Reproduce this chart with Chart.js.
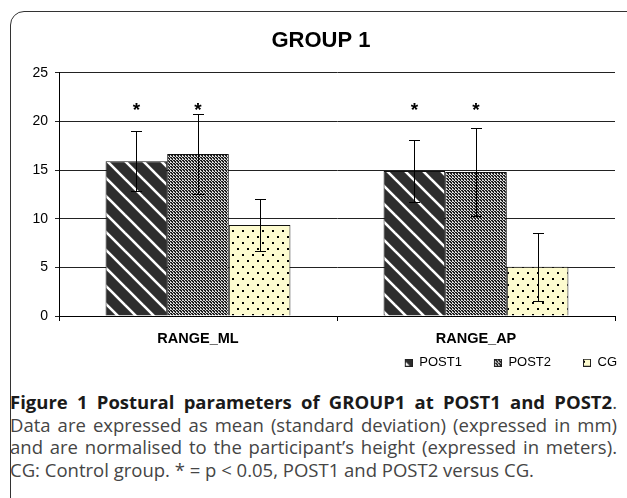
<!DOCTYPE html>
<html><head><meta charset="utf-8">
<script src="https://cdn.jsdelivr.net/npm/chart.js@4.4.0/dist/chart.umd.min.js"></script>
<style>
html,body{margin:0;padding:0;background:#fff;width:627px;height:498px;overflow:hidden;}
#frame{position:absolute;left:10px;top:11px;width:700px;height:600px;border:1.5px solid #333;border-radius:14px;box-sizing:border-box;}
#chartbox{position:absolute;left:0;top:0;width:627px;height:380px;}
#caption{position:absolute;left:10px;top:391px;width:607px;font-family:"Open Sans","Noto Sans",sans-serif;font-size:18.5px;line-height:22.5px;color:#454545;}
.l{text-align:justify;text-align-last:justify;white-space:nowrap;}
.last{text-align:left;white-space:nowrap;}
b{color:#1a1a1a;font-weight:700;}
</style>
</head>
<body>
<div id="frame"></div>
<div id="chartbox"><canvas id="c" width="627" height="380"></canvas></div>
<div id="caption">
<div class="l"><b>Figure 1 Postural parameters of GROUP1 at POST1 and POST2</b>.</div>
<div class="l">Data are expressed as mean (standard deviation) (expressed in mm)</div>
<div class="l">and are normalised to the participant’s height (expressed in meters).</div>
<div class="last">CG: Control group. * = p &lt; 0.05, POST1 and POST2 versus CG.</div>
</div>
<script>
// ---- data ----
const categories = ['RANGE_ML', 'RANGE_AP'];
const seriesNames = ['POST1', 'POST2', 'CG'];
const post1Mean = [15.9, 14.9];
const post1SD = [3.1, 3.15];
const post2Mean = [16.65, 14.8];
const post2SD = [4.1, 4.5];
const cgMean = [9.35, 5.05];
const cgSD = [2.7, 3.5];
const post1Stars = ['*', '*'];
const post2Stars = ['*', '*'];
const cgStars = ['', ''];
const yTicks = [0, 5, 10, 15, 20, 25];
const chartTitle = 'GROUP 1';

// ---- patterns ----
function makeCanvas(w, h, draw) {
  const c = document.createElement('canvas');
  c.width = w; c.height = h;
  draw(c.getContext('2d'), w, h);
  return c;
}
function toPattern(cv) {
  return document.getElementById('c').getContext('2d').createPattern(cv, 'repeat');
}
const stripeTile = makeCanvas(18, 18, (g, w, h) => {
  g.fillStyle = '#2e2e2e'; g.fillRect(0, 0, w, h);
  g.strokeStyle = '#ffffff'; g.lineWidth = 2.6;
  for (let k = -1; k <= 1; k++) {
    g.beginPath(); g.moveTo(-3, -3 + k * h); g.lineTo(w + 3, h + 3 + k * h); g.stroke();
  }
});
const checkTile = makeCanvas(3, 3, (g) => {
  g.fillStyle = '#1c1c1c'; g.fillRect(0, 0, 3, 3);
  g.fillStyle = '#d8d8d8'; g.fillRect(0, 0, 1, 1); g.fillRect(1, 1, 1, 1); g.fillRect(2, 2, 1, 1); g.fillRect(2, 0, 1, 1);
});
const dotTile = makeCanvas(10, 12, (g, w, h) => {
  g.fillStyle = '#fdfbcf'; g.fillRect(0, 0, w, h);
  g.fillStyle = '#000'; g.fillRect(2, 2, 2, 2); g.fillRect(7, 8, 2, 2);
});
const stripePattern = toPattern(stripeTile);
const checkPattern = toPattern(checkTile);
const dotPattern = toPattern(dotTile);

function g2p(tile) {
  const c = document.createElement('canvas').getContext('2d');
  return c.createPattern(tile, 'repeat');
}
// legend icons: small patterned square at the right of a transparent strip
function legendIcon(pattern) {
  return makeCanvas(30, 8, (g) => {
    g.fillStyle = pattern; g.fillRect(22, 0, 8, 8);
    g.strokeStyle = '#222'; g.lineWidth = 1; g.strokeRect(22.5, 0.5, 7, 7);
  });
}
const legendIcons = [
  legendIcon(g2p(stripeTile)), legendIcon(g2p(checkTile)), legendIcon(g2p(dotTile))
];

const errorBars = {
  id: 'errorBars',
  afterDatasetsDraw(chart) {
    const ctx = chart.ctx, ys = chart.scales.y;
    ctx.save();
    chart.data.datasets.forEach((ds, i) => {
      const meta = chart.getDatasetMeta(i);
      meta.data.forEach((bar, j) => {
        const m = ds.data[j], s = ds.sd[j];
        const yt = Math.round(ys.getPixelForValue(m + s)) + 0.5;
        const yb = Math.round(ys.getPixelForValue(m - s)) + 0.5;
        const x = Math.round(bar.x) + 0.5;
        ctx.strokeStyle = '#000'; ctx.lineWidth = 1;
        ctx.beginPath();
        ctx.moveTo(x, yt); ctx.lineTo(x, yb);
        ctx.moveTo(x - 5.5, yt); ctx.lineTo(x + 5.5, yt);
        ctx.moveTo(x - 5.5, yb); ctx.lineTo(x + 5.5, yb);
        ctx.stroke();
        const star = ds.stars[j];
        if (star) {
          ctx.fillStyle = '#000';
          ctx.font = 'bold 19px "Liberation Sans", Arial, sans-serif';
          ctx.textAlign = 'center'; ctx.textBaseline = 'middle';
          ctx.fillText(star, bar.x, ys.getPixelForValue(chart.options.plugins.errorBars.starLevel));
        }
      });
    });
    ctx.restore();
  }
};

const font = '"Liberation Sans", Arial, sans-serif';
new Chart(document.getElementById('c'), {
  type: 'bar',
  data: {
    labels: categories,
    datasets: [
      { label: seriesNames[0], data: post1Mean, sd: post1SD, stars: post1Stars, backgroundColor: stripePattern, borderColor: '#111', borderWidth: 1 },
      { label: seriesNames[1], data: post2Mean, sd: post2SD, stars: post2Stars, backgroundColor: checkPattern, borderColor: '#111', borderWidth: 1 },
      { label: seriesNames[2], data: cgMean, sd: cgSD, stars: cgStars, backgroundColor: dotPattern, borderColor: '#111', borderWidth: 1 }
    ]
  },
  options: {
    responsive: false,
    animation: false,
    categoryPercentage: 0.665,
    barPercentage: 1.0,
    layout: { padding: { top: 0, left: 15, right: 0, bottom: 0.8 } },
    scales: {
      x: {
        offset: true,
        grid: { offset: true, drawOnChartArea: false, tickLength: 5, color: '#000' },
        border: { color: '#000', width: 1 },
        ticks: { color: '#000', padding: 9, font: { family: font, size: 14.5, weight: 'bold' } },
        afterFit: s => { s.height = 30.2; }
      },
      y: {
        min: 0, max: 25,
        afterBuildTicks: s => { s.ticks = yTicks.map(v => ({ value: v })); },
        grid: { color: '#222', tickLength: 4, lineWidth: 1 },
        border: { color: '#000', width: 1 },
        ticks: { color: '#000', padding: 7, font: { family: font, size: 14 } },
        afterFit: s => { s.width = 44; }
      },
      yR: {
        position: 'right', display: true,
        grid: { display: false }, border: { display: false },
        ticks: { display: false },
        afterFit: s => { s.width = 12; }
      }
    },
    plugins: {
      errorBars: { starLevel: 21.1 },
      tooltip: { enabled: false },
      title: {
        display: true, text: chartTitle, color: '#000',
        font: { family: font, size: 22, weight: 'bold' },
        padding: { top: 27.8, bottom: 18.5 }
      },
      legend: {
        position: 'bottom', align: 'end',
        labels: {
          color: '#000', font: { family: font, size: 13 },
          usePointStyle: true, pointStyleWidth: 30, boxWidth: 30, boxHeight: 8, padding: 10,
          generateLabels: chart => chart.data.datasets.map((ds, i) => ({
            text: ds.label, datasetIndex: i, hidden: false,
            pointStyle: legendIcons[i], fillStyle: '#000', strokeStyle: '#000', lineWidth: 0,
            fontColor: '#000'
          }))
        }
      }
    }
  },
  plugins: [errorBars]
});
</script>
</body></html>
